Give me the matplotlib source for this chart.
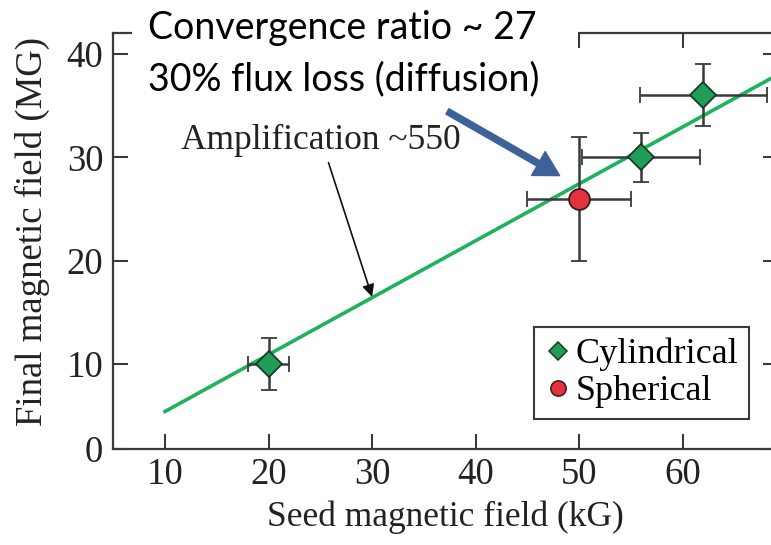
import matplotlib
matplotlib.use("Agg")
import matplotlib.pyplot as plt
from matplotlib.patches import Rectangle, FancyArrowPatch
from matplotlib.lines import Line2D

# ---- data ----
cyl_x = [20, 56, 62]
cyl_y = [10, 30, 36]
cyl_xerr = [2, 5.7, 6.1]
cyl_yerr = [2.5, 2.4, 3.0]

sph_x = [50]
sph_y = [26]
sph_xerr = [5]
sph_yerr = [6]

fit_x = [10, 69]
fit_y = [5.4, 37.9]

x_ticks = [10, 20, 30, 40, 50, 60]
y_tick_labels = ["0", "10", "20", "30", "40"]

serif = ["Liberation Serif", "DejaVu Serif"]
plt.rcParams["font.family"] = serif

W, H = 771, 545
fig = plt.figure(figsize=(W / 100, H / 100), dpi=100)
ax_l, ax_r, ax_t, ax_b = 113, 778, 33, 449
ax = fig.add_axes([ax_l / W, 1 - ax_b / H, (ax_r - ax_l) / W, (ax_b - ax_t) / H])

ybot = 1.77
ax.set_xlim(4.98, 69.2)
ax.set_ylim(ybot, 42.03)

green = "#1db35c"
dk = "#3a3a3a"
tc = "#222222"
cyl_fc, cyl_ec = "#1f9e58", "#1a3a26"
sph_fc, sph_ec = "#e3333c", "#3a1a1a"

ax.plot(fit_x, fit_y, color=green, lw=2.6, zorder=2)

ax.errorbar(cyl_x, cyl_y, xerr=cyl_xerr, yerr=cyl_yerr, fmt="D", ms=13,
            mfc=cyl_fc, mec=cyl_ec, mew=1.3, ecolor=dk, elinewidth=1.8,
            capsize=6, capthick=1.8, zorder=3)
ax.errorbar(sph_x, sph_y, xerr=sph_xerr, yerr=sph_yerr, fmt="o", ms=15,
            mfc=sph_fc, mec=sph_ec, mew=1.3, ecolor=dk, elinewidth=1.8,
            capsize=6, capthick=1.8, zorder=3)

ax.set_xticks(x_ticks)
ax.set_xticklabels([str(v) for v in x_ticks])
ax.set_yticks([ybot, 10, 20, 30, 40])
ax.set_yticklabels(y_tick_labels)
ax.tick_params(direction="in", length=11, width=1.5, color=dk, labelsize=26.5,
               top=True, right=True, labelcolor=tc)
ax.tick_params(axis="x", pad=6)
ax.tick_params(axis="y", pad=7)
for s in ax.spines.values():
    s.set_color(dk)
    s.set_linewidth(1.6)

ax.set_xlabel("Seed magnetic field (kG)", fontsize=25.5, color=tc, labelpad=6)
ax.set_ylabel("Final magnetic field (MG)", fontsize=26.5, color=tc)
ax.yaxis.set_label_coords(-0.095, 0.522)

handles = [
    Line2D([], [], ls="none", marker="D", ms=9, mfc=cyl_fc, mec=cyl_ec, mew=1.1,
           label="Cylindrical"),
    Line2D([], [], ls="none", marker="o", ms=11, mfc=sph_fc, mec=sph_ec, mew=1.1,
           label="Spherical"),
]
leg = ax.legend(handles=handles, loc="lower right", bbox_to_anchor=(0.956, 0.072),
                borderaxespad=0, fontsize=26, frameon=True, fancybox=False,
                edgecolor=dk, handletextpad=0.1, handlelength=0.75,
                borderpad=0.3, labelspacing=0.1, framealpha=1)
leg.get_frame().set_linewidth(1.5)

# annotation on the fit line
ax.annotate("Amplification ~550", xy=(30, 16.5), xytext=(25.1, 30.0),
            fontsize=25.5, color=tc, ha="center", va="bottom",
            arrowprops=dict(arrowstyle="-|>", color="#111111", lw=1.2,
                            mutation_scale=18, shrinkA=2, shrinkB=0))

# white text box covering the top
fig.add_artist(Rectangle((132 / W, 1 - 100 / H), (578 - 132) / W, 100 / H,
                         transform=fig.transFigure, facecolor="white",
                         edgecolor="none", zorder=10))
fig.text(148 / W, 1 - 28 / H, "Convergence ratio ~ 27", family=["Lato", "DejaVu Sans"],
         fontsize=27, va="center", ha="left", color="black", zorder=11)
fig.text(148 / W, 1 - 79 / H, "30% flux loss (diffusion)", family=["Lato", "DejaVu Sans"],
         fontsize=27, va="center", ha="left", color="black", zorder=11)

# blue arrow
fig.add_artist(FancyArrowPatch(
    (445 / W, 1 - 110 / H), (562 / W, 1 - 177 / H), transform=fig.transFigure,
    arrowstyle="simple,head_width=1.8,head_length=1.6,tail_width=0.4",
    mutation_scale=11, color="#3d6199", zorder=12))

fig.savefig("out.png", dpi=100)
